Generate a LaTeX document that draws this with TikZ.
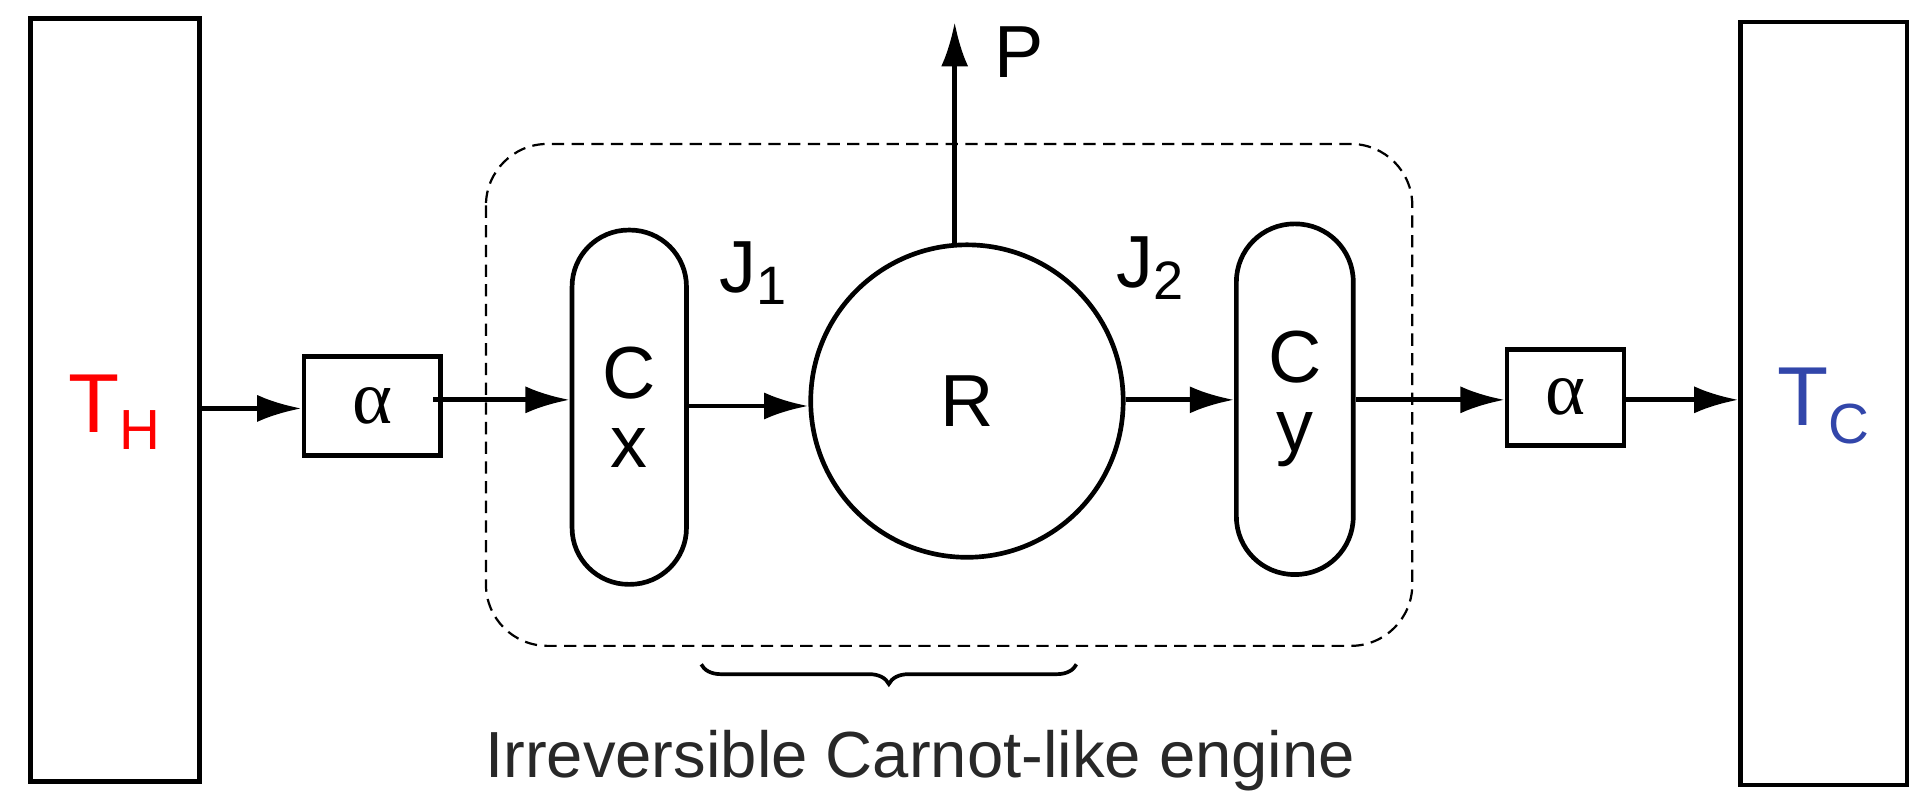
\documentclass[tikz,border=0pt]{standalone}
\usepackage{fontspec}
\setmainfont{Liberation Sans}
\newfontfamily\seriff{Liberation Serif}
\usetikzlibrary{arrows.meta,decorations.pathreplacing}
\begin{document}
\begin{tikzpicture}[x=1pt,y=-1pt,line width=3.8pt,
  box/.style={draw,inner sep=0pt},
  arr/.style={-{Latex[length=36pt,width=22pt]}},
  lbl/.style={font=\fontsize{60}{60}\selectfont},
  al/.style={font=\seriff\fontsize{62}{62}\selectfont}]
\useasboundingbox (0,0) rectangle (1568,656);
\node[box,minimum width=137pt,minimum height=620pt] (L) at (93.5,325) {};
\node[box,minimum width=135pt,minimum height=620pt] (Rr) at (1482.5,328) {};
\node[text=red,font=\fontsize{68}{68}\selectfont] (TH) at (93,335) {T\raisebox{-14pt}{\fontsize{46}{46}\selectfont H}};
\node[text={rgb,255:red,50;green,70;blue,170},font=\fontsize{68}{68}\selectfont] (TC) at (1482,330) {T\raisebox{-14pt}{\fontsize{46}{46}\selectfont C}};
\node[box,minimum width=111pt,minimum height=80pt,al] (a1) at (302.5,330) {α};
\node[box,minimum width=95pt,minimum height=78pt,al] (a2) at (1272.5,323) {α};
\node[box,rounded corners=46pt,minimum width=93pt,minimum height=288pt,align=center,lbl] (cx) at (511.5,331) {C\\[-4pt]x};
\node[box,rounded corners=47pt,minimum width=95pt,minimum height=285pt,align=center,lbl] (cy) at (1052.5,324.5) {C\\[-4pt]y};
\node[draw,circle,minimum size=254pt,lbl] (R) at (786,326) {R};
\draw[dashed,line width=1.8pt,dash pattern=on 10pt off 6pt,rounded corners=50pt] (395,117) rectangle (1148,525);
\coordinate (Ptop) at (776,18);
\draw[arr] (776,200) -- (Ptop);
\node[lbl] (P) at (828,42) {P};
\node[lbl] (J1) at (612,222) {J\raisebox{-10pt}{\fontsize{44}{44}\selectfont 1}};
\node[lbl] (J2) at (935,218) {J\raisebox{-10pt}{\fontsize{44}{44}\selectfont 2}};
\coordinate (s1) at (162,332); \coordinate (s2) at (352,325);
\draw[arr] (s1) -- (a1.west |- s1);
\draw[arr] (s2) -- (cx.west |- s2);
\draw[arr] (cx.east |- 0,330) -- (R.west |- 0,330);
\draw[arr] (R.east |- 0,325) -- (cy.west |- 0,325);
\draw[arr] (cy.east |- 0,325) -- (a2.west |- 0,325);
\draw[arr] (a2.east |- 0,325) -- (Rr.west |- 0,325);
\draw[decorate,decoration={brace,mirror,amplitude=16pt},line width=3pt] (570,540) -- (875,540);
\node[font=\fontsize{53}{53}\selectfont,text={rgb,255:red,40;green,40;blue,40}] (eng) at (748,618) {Irreversible Carnot-like engine};
\end{tikzpicture}
\end{document}
